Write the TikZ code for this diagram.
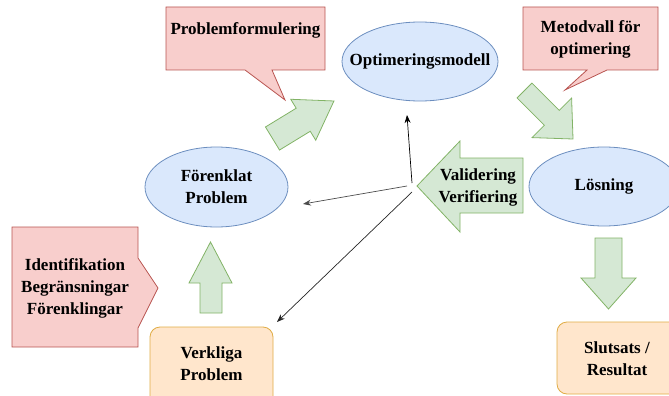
\documentclass[tikz,border=0pt]{standalone}
\usepackage{fontspec}
\setmainfont{Liberation Serif}
\usetikzlibrary{arrows.meta,shapes.geometric}
\definecolor{redfill}{HTML}{F8CECC}\definecolor{redline}{HTML}{B85450}
\definecolor{bluefill}{HTML}{DAE8FC}\definecolor{blueline}{HTML}{6C8EBF}
\definecolor{greenfill}{HTML}{D5E8D4}\definecolor{greenline}{HTML}{82B366}
\definecolor{orangefill}{HTML}{FFE6CC}\definecolor{orangeline}{HTML}{E0AC45}
\tikzset{
  lbl/.style={font=\bfseries\fontsize{17}{22}\selectfont, align=center, inner sep=0pt},
  callout/.style={fill=redfill, draw=redline, line width=0.8pt, line join=miter},
  blockarrow/.style={fill=greenfill, draw=greenline, line width=0.8pt},
  bubble/.style={ellipse, fill=bluefill, draw=blueline, line width=0.8pt, inner sep=0pt},
  roundbox/.style={rounded corners=10pt, fill=orangefill, draw=orangeline, line width=0.8pt},
  conn/.style={line width=0.7pt, -{Stealth[length=8pt,width=6pt]}},
}
\begin{document}
\begin{tikzpicture}[x=1pt,y=-1pt]
\useasboundingbox (0,0) rectangle (669,396);
\clip (0,0) rectangle (669,396);

% callouts
\draw[callout] (166,7) -- (325,7) -- (325,70) -- (272,70) -- (285,100) -- (245,70) -- (166,70) -- cycle;
\node[lbl] (pf) at (245.5,30) {Problemformulering};
\draw[callout] (523,7) -- (658,7) -- (658,70) -- (607,70) -- (565,90) -- (587,70) -- (523,70) -- cycle;
\node[lbl] (mv) at (590.5,39) {Metodvall för\\optimering};
\draw[callout] (12,227) -- (138,227) -- (138,258) -- (158,288) -- (138,328) -- (138,347) -- (12,347) -- cycle;
\node[lbl] (id) at (75,288) {Identifikation\\Begränsningar\\Förenklingar};

% ellipses
\node[bubble, minimum width=156pt, minimum height=79pt] (om) at (420,61.5) {};
\node[lbl] (omt) at (om.center) {Optimeringsmodell};
\node[bubble, minimum width=143pt, minimum height=80pt] (fp) at (216.5,187) {};
\node[lbl] (fpt) at (fp.center) {Förenklat\\Problem};
\node[bubble, minimum width=150pt, minimum height=79pt] (ls) at (604,186.5) {};
\node[lbl] (lst) at (ls.center) {Lösning};

% rounded boxes
\draw[roundbox] (150,327) rectangle (273,410);
\node[lbl] (vp) at (211.5,364) {Verkliga\\Problem};
\draw[roundbox] (557,322) rectangle (690,394);
\node[lbl] (sr) at (617,359) {Slutsats /\\Resultat};

% green block arrows
\draw[blockarrow, shift={(272.5,138.5)}, rotate=31.4]
  (0,-13.5) -- (36,-13.5) -- (36,-24) -- (72,0) -- (36,24) -- (36,13.5) -- (0,13.5) -- cycle;
\draw[blockarrow, shift={(524.5,90.5)}, rotate=-45]
  (0,-10.5) -- (38.6,-10.5) -- (38.6,-28) -- (68.6,0) -- (38.6,28) -- (38.6,10.5) -- (0,10.5) -- cycle;
\draw[blockarrow] (200,313) -- (200,283) -- (189,283) -- (210.5,242) -- (232,283) -- (222,283) -- (222,313) -- cycle;
\draw[blockarrow] (595,238) -- (622,238) -- (622,278) -- (636,278) -- (608.5,309) -- (581,278) -- (595,278) -- cycle;
\draw[blockarrow] (523,158) -- (460,158) -- (460,141) -- (417,186) -- (460,232) -- (460,213) -- (523,213) -- cycle;
\node[lbl] (vv) at (478,187) {Validering\\Verifiering};

% connectors
\coordinate (s1) at (412,183);
\coordinate (s2) at (407,186);
\coordinate (s3) at (412,192);
\coordinate (e1) at (407,115);
\coordinate (e2) at (303,204);
\coordinate (e3) at (277,322);
\draw[conn, black] (s1) -- (e1);
\draw[conn, black!70] (s2) -- (e2);
\draw[conn, black!85] (s3) -- (e3);
\end{tikzpicture}
\end{document}
